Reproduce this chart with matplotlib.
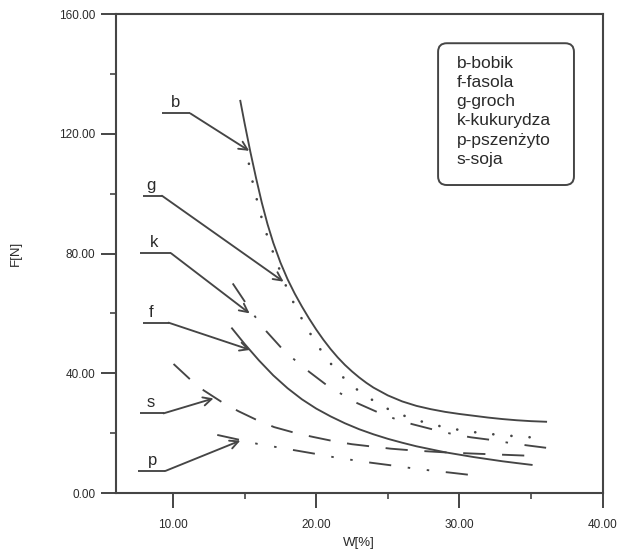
import matplotlib
matplotlib.use("Agg")
import matplotlib.pyplot as plt
from matplotlib.patches import FancyBboxPatch
from matplotlib.ticker import MultipleLocator, FormatStrFormatter

plt.rcParams['font.family'] = ['Liberation Sans', 'DejaVu Sans']
plt.rcParams['lines.scale_dashes'] = False

INK = '#454545'
TXT = '#2a2a2a'

# --- measured curves: W[%] vs F[N] ---
# b - bobik
b_w = [14.70, 15.00, 15.40, 15.80, 16.20, 16.60, 17.00, 17.50, 18.00, 18.50, 19.00, 19.50, 20.00, 20.50,
       21.00, 21.50, 22.00, 22.50, 23.00, 23.50, 24.00, 25.00, 26.00, 27.00, 28.00, 29.00, 30.00, 31.00,
       32.00, 33.00, 34.00, 35.00, 36.05]
b_f = [131.0, 123.5, 114.0, 105.2, 97.0, 89.8, 83.6, 77.0, 71.4, 66.6, 62.3, 58.3, 54.6, 51.2,
       48.1, 45.3, 42.8, 40.6, 38.6, 36.8, 35.2, 32.6, 30.6, 29.1, 28.0, 27.1, 26.4, 25.8,
       25.2, 24.7, 24.3, 24.0, 23.8]

# g - groch
g_w = [15.30, 15.62, 15.97, 16.32, 16.79, 17.21, 17.70, 18.19, 18.81, 19.46, 20.21, 20.98, 21.91, 22.84,
       24.00, 25.11, 26.41, 27.69, 29.02, 30.41, 31.74, 33.03, 34.36, 35.60]
g_f = [110.0, 102.5, 95.8, 89.6, 82.9, 77.6, 71.3, 65.8, 59.8, 54.2, 48.5, 43.4, 38.5, 34.6,
       30.8, 27.8, 25.3, 23.4, 21.9, 20.7, 19.9, 19.3, 18.8, 18.4]

# k - kukurydza
k_w = [14.17, 15.02, 15.72, 16.54, 17.58, 18.58, 19.53, 20.85, 22.87, 24.38, 25.54, 26.70, 28.33, 29.60,
       30.80, 32.43, 33.64, 34.90, 36.05]
k_f = [70.0, 63.9, 59.0, 53.9, 48.4, 44.1, 40.4, 35.6, 30.0, 26.8, 24.7, 23.0, 21.0, 19.6,
       18.6, 17.6, 16.6, 15.8, 15.1]

# f - fasola
f_w = [14.12, 15.00, 16.00, 17.00, 18.00, 19.00, 20.00, 21.00, 22.00, 23.00, 24.00, 25.00, 26.00, 27.00,
       28.00, 29.00, 30.00, 31.00, 32.00, 33.00, 34.00, 35.04]
f_f = [55.0, 49.8, 44.3, 39.3, 35.0, 31.3, 28.2, 25.6, 23.3, 21.3, 19.6, 18.1, 16.8, 15.6,
       14.6, 13.6, 12.8, 12.0, 11.3, 10.6, 10.0, 9.4]

# s - soja
s_w = [10.04, 11.21, 12.14, 13.53, 14.58, 15.98, 17.07, 18.66, 19.81, 21.33, 22.49, 24.12, 25.21, 26.79,
       28.90, 30.80, 32.40, 33.50, 35.10]
s_f = [43.1, 37.9, 34.3, 30.0, 27.3, 24.1, 22.0, 19.9, 18.7, 17.2, 16.3, 15.4, 14.8, 14.2,
       13.6, 13.2, 12.9, 12.7, 12.4]

# p - pszenzyto
p_w = [13.09, 14.71, 15.91, 17.27, 18.47, 20.05, 21.30, 22.70, 23.85, 25.47, 26.80, 28.20, 29.37, 31.00]
p_f = [19.4, 17.7, 16.4, 15.3, 14.3, 13.0, 11.9, 10.9, 10.1, 9.1, 8.2, 7.4, 6.8, 5.9]

legend_lines = ['b-bobik', 'f-fasola', 'g-groch', 'k-kukurydza', 'p-pszenżyto', 's-soja']

# curve label: text, label pos, underline x-range, underline y, arrow tip
labels = [
    ('b', (10.2, 127.8), (9.23, 11.21), 126.8, (15.32, 114.3)),
    ('g', (8.45, 100.3), (7.91, 9.23), 99.3, (17.72, 70.6)),
    ('k', (8.65, 81.1), (7.72, 9.86), 80.1, (15.35, 60.0)),
    ('f', (8.45, 57.9), (7.91, 9.69), 56.9, (15.39, 47.8)),
    ('s', (8.45, 27.6), (7.67, 9.34), 26.6, (12.83, 31.6)),
    ('p', (8.55, 8.3), (7.53, 9.46), 7.35, (14.70, 17.5)),
]

fig = plt.figure(figsize=(6.23, 5.56), dpi=100)
ax = fig.add_axes([0.1857, 0.1133, 0.7817, 0.8615])

lw = 1.35
ax.plot(b_w, b_f, color=INK, lw=lw)
ax.plot(f_w, f_f, color=INK, lw=lw)
ax.plot(g_w, g_f, color=INK, lw=1.9, linestyle=(0, (0.1, 13.0)), dash_capstyle='round')
ax.plot(k_w, k_f, color=INK, lw=lw, linestyle=(0, (16, 12, 1.8, 12)))
ax.plot(s_w, s_f, color=INK, lw=lw, linestyle=(0, (16, 12)))
ax.plot(p_w, p_f, color=INK, lw=lw, linestyle=(0, (16, 12, 1.8, 12, 1.8, 12)))

for name, tpos, (ux0, ux1), uy, tip in labels:
    ax.text(tpos[0], tpos[1], name, fontsize=12, color=TXT, ha='center', va='bottom')
    ax.plot([ux0, ux1], [uy, uy], color=INK, lw=lw, solid_capstyle='butt')
    ax.annotate('', xy=tip, xytext=(ux1, uy),
                arrowprops=dict(arrowstyle='->,head_length=0.6,head_width=0.3',
                                color=INK, lw=lw, shrinkA=0, shrinkB=0))

# rounded legend box
box = FancyBboxPatch((0.662, 0.643), 0.279, 0.296, transform=ax.transAxes,
                     boxstyle='round,pad=0,rounding_size=0.018',
                     fc='white', ec=INK, lw=1.4)
ax.add_patch(box)
for i, line in enumerate(legend_lines):
    ax.text(0.700, 0.897 - i * 0.0401, line, transform=ax.transAxes,
            fontsize=12.5, color=TXT, ha='left', va='center')

ax.set_xlim(6, 40)
ax.set_ylim(0, 160)
ax.xaxis.set_major_locator(MultipleLocator(10))
ax.xaxis.set_minor_locator(MultipleLocator(5))
ax.yaxis.set_major_locator(MultipleLocator(40))
ax.yaxis.set_minor_locator(MultipleLocator(20))
ax.xaxis.set_major_formatter(FormatStrFormatter('%.2f'))
ax.yaxis.set_major_formatter(FormatStrFormatter('%.2f'))

for sp in ax.spines.values():
    sp.set_color(INK)
    sp.set_linewidth(1.5)
ax.tick_params(which='major', direction='out', length=11, width=1.4, color=INK,
               labelsize=8.5, labelcolor=TXT)
ax.tick_params(which='minor', direction='out', length=4.5, width=1.2, color=INK)
ax.tick_params(axis='x', which='major', pad=8)
ax.tick_params(axis='y', which='major', pad=3.5)

ax.set_xlabel('W[%]', fontsize=9.5, color=TXT, labelpad=4)
ax.set_ylabel('F[N]', fontsize=9.5, color=TXT, labelpad=27)

fig.savefig('out.png', dpi=100)
